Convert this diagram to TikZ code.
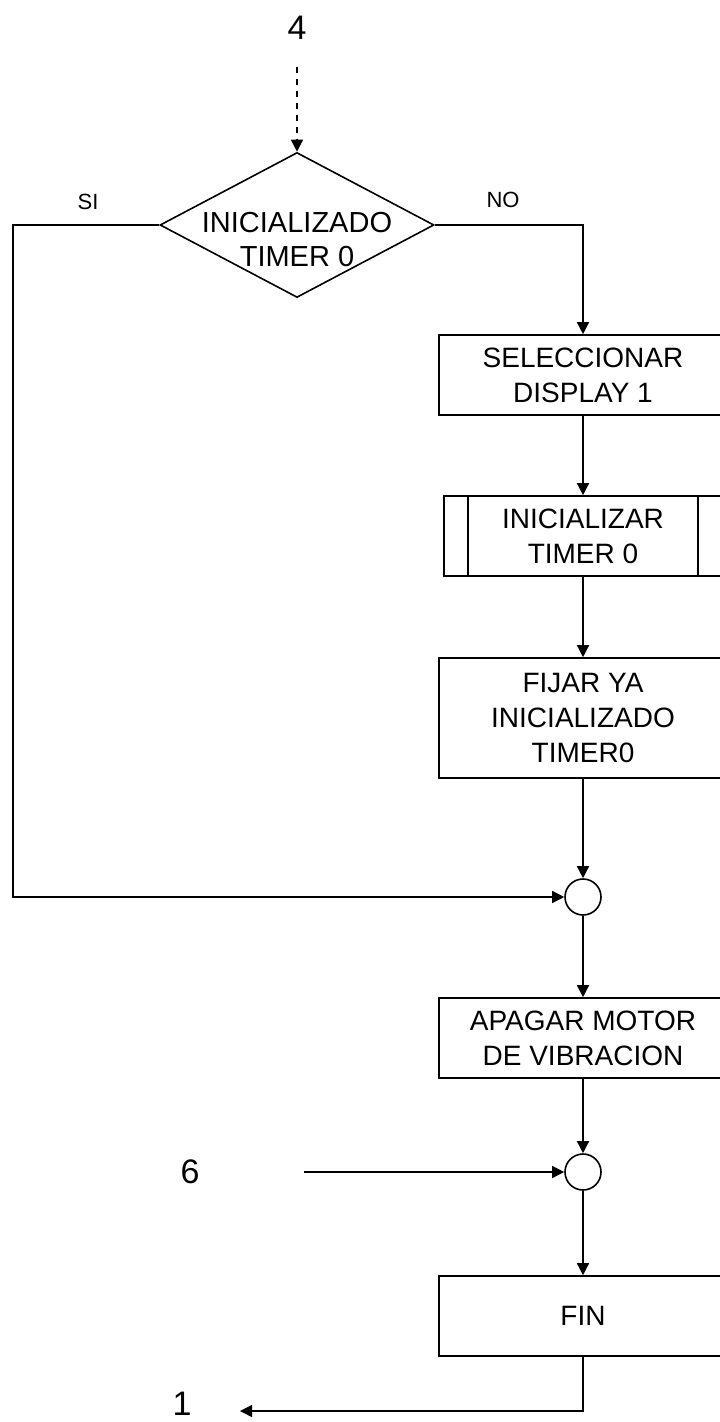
\documentclass[tikz,border=0pt]{standalone}
\usepackage{fontspec}
\setmainfont{Liberation Sans}
\usetikzlibrary{
  arrows.meta,
  positioning,
  shapes.geometric,
}
\tikzset{
  procbox/.style={
    rectangle, draw, line width=0.8pt,
    minimum width=144pt, minimum height=40pt, inner sep=2pt,
    align=center, font=\fontsize{14}{17.5}\selectfont
  },
  subbox/.style={procbox, minimum width=139pt},
  decision/.style={
    diamond, draw, line width=0.8pt,
    minimum width=137pt, minimum height=72.5pt, inner sep=0pt
  },
  joint/.style={circle, draw, line width=0.8pt, minimum size=18pt, inner sep=0pt},
  flowline/.style={line width=0.7pt},
  flowarrow/.style={flowline, -{Triangle[length=6pt,width=6pt]}},
  branchlabel/.style={font=\fontsize{11}{13}\selectfont},
  connlabel/.style={font=\fontsize{17}{20}\selectfont},
}

\begin{document}
\begin{tikzpicture}[x=0.5pt, y=-0.5pt]
  \useasboundingbox (0,0) rectangle (719,1422);

  % ── Nodes ──
  \node[connlabel] (in4) at (297, 28) {4};
  \node[decision] (dec) at (297, 225) {};
  \node[procbox, draw=none, font=\fontsize{14.5}{17}\selectfont] (dectext) at (297, 240) {INICIALIZADO\\TIMER 0};
  \node[procbox] (sel) at (583, 375) {SELECCIONAR\\DISPLAY 1};
  \node[subbox]  (ini) at (583, 536) {INICIALIZAR\\TIMER 0};
  \node[procbox, minimum height=60pt] (fij) at (583, 718) {FIJAR YA\\INICIALIZADO\\TIMER0};
  \node[joint] (j1) at (583, 897) {};
  \node[procbox] (apa) at (583, 1038) {APAGAR MOTOR\\DE VIBRACION};
  \node[joint] (j2) at (583, 1172) {};
  \node[procbox] (fin) at (583, 1316) {FIN};
  \node[connlabel] (in6) at (190, 1172) {6};
  \node[connlabel] (out1) at (182, 1404) {1};

  % subprocess side bars
  \draw[line width=0.8pt] ([xshift=12.5pt]ini.north west) -- ([xshift=12.5pt]ini.south west);
  \draw[line width=0.8pt] ([xshift=-12.5pt]ini.north east) -- ([xshift=-12.5pt]ini.south east);

  % ── Branch labels ──
  \node[branchlabel] (si) at (88, 202) {SI};
  \node[branchlabel] (no) at (503, 200) {NO};

  % ── Edges ──
  \coordinate (siL) at (13, 225);
  \coordinate (from6) at (304, 1172);
  \coordinate (to1) at (240, 1411);
  \draw[flowarrow, dashed, shorten <=10pt] (in4.south) -- (dec.north);
  \draw[flowarrow] (dec.west) -- (siL) |- (j1.west);
  \draw[flowarrow] (dec.east) -| (sel.north);
  \draw[flowarrow] (sel.south) -- (ini.north);
  \draw[flowarrow] (ini.south) -- (fij.north);
  \draw[flowarrow] (fij.south) -- (j1.north);
  \draw[flowarrow] (j1.south) -- (apa.north);
  \draw[flowarrow] (apa.south) -- (j2.north);
  \draw[flowarrow] (from6) -- (j2.west);
  \draw[flowarrow] (j2.south) -- (fin.north);
  \draw[flowarrow] (fin.south) |- (to1);

\end{tikzpicture}
\end{document}
